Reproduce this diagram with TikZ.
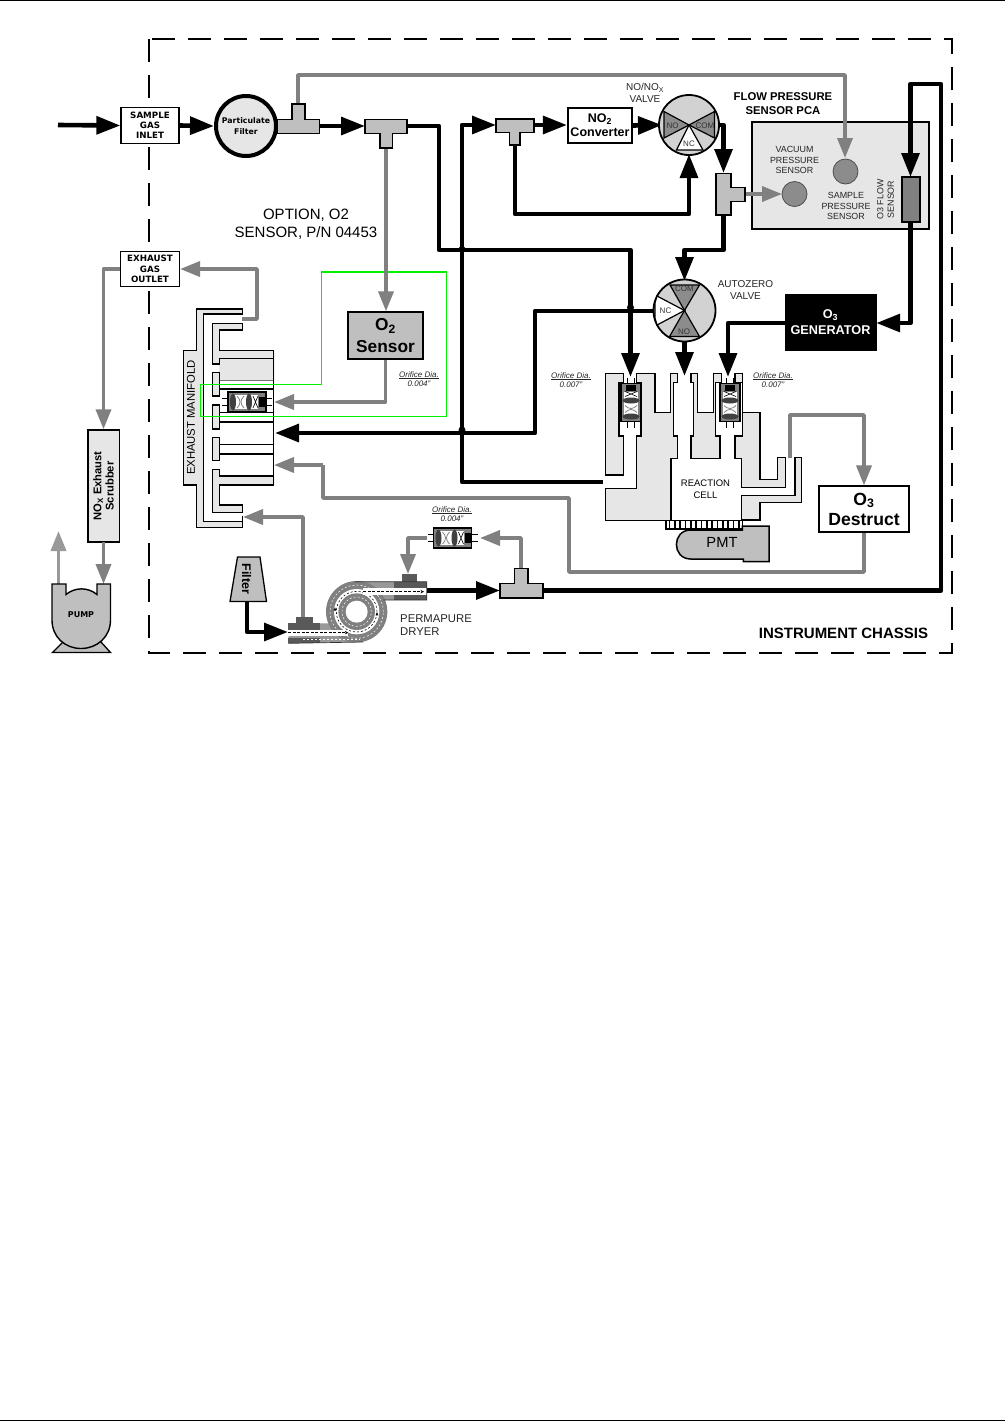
\documentclass[tikz,border=0pt]{standalone}
\usepackage{fontspec}
\setmainfont{Liberation Sans}
\newfontfamily\verd{DejaVu Sans}
\usetikzlibrary{arrows.meta}
\definecolor{lite}{HTML}{E6E6E6}
\definecolor{midg}{HTML}{BFBFBF}
\definecolor{pipeg}{HTML}{808080}
\definecolor{dark}{HTML}{8C8C8C}
\definecolor{optgreen}{HTML}{00F000}
\newcommand{\fsz}[1]{\fontsize{#1}{#1}\selectfont}
\tikzset{
 blk/.style={draw=black,line width=4.6pt,line join=round,-{Triangle[length=24pt,width=17.5pt]}},
 blkline/.style={draw=black,line width=4.6pt,line join=round},
 gry/.style={draw=pipeg,line width=3.6pt,line join=round,-{Triangle[length=20pt,width=15pt]}},
 gryline/.style={draw=pipeg,line width=3.6pt,line join=round},
 box/.style={draw=black,line width=1.2pt,fill=white,inner sep=0pt,align=center},
 tfit/.style={draw=black,fill=midg,line width=1.6pt},
 cellp/.style={draw=black,fill=lite,line width=1.5pt,line join=miter},
 manp/.style={draw=black,fill=lite,line width=1.4pt},
 lbl/.style={inner sep=0pt,align=center},
 dot/.style={circle,fill=black,inner sep=0pt,minimum size=7pt},
 wedgeg/.style={draw=black,fill=dark,line width=1.2pt},
 wedgew/.style={draw=black,fill=white,line width=1.2pt},
 valve/.style={circle,draw=black,line width=1.8pt,fill=midg!70!white,inner sep=0pt},
 orif/.pic={
  \draw[black,line width=.6pt] (-25,-3.5) -- (-19,-3.5) (-25,3.5) -- (-19,3.5) (19,-3.5) -- (25,-3.5) (19,3.5) -- (25,3.5);
  \fill[pipeg,draw=black,line width=1.2pt] (-19,-10) rectangle (19,10);
  \fill[white] (-15,-7) rectangle (11,7);
  \draw[pipeg,line width=.8pt] (-10,-6) .. controls (-6,-2) and (-6,2) .. (-10,6);
  \draw[pipeg,line width=.8pt] (-3,-6) .. controls (-7,-2) and (-7,2) .. (-3,6);
  \fill[black!75] (-14,0) ellipse (3pt and 8.5pt);
  \fill[black!75] (2,0) ellipse (3pt and 8.5pt);
  \draw[black,line width=.6pt] (6,-6) -- (11,6) (6,6) -- (11,-6);
  \fill[black] (12,-5) rectangle (18,5);
 }
}
\begin{document}
\begin{tikzpicture}[x=1pt,y=-1pt]
\useasboundingbox (0,0) rectangle (1005,1422);
\fill[white] (0,0) rectangle (1005,1422);
% page rules
\draw[line width=1pt] (0,.5) -- (1005,.5);
\draw[line width=1pt] (0,1420.5) -- (1005,1420.5);
% chassis
\draw[black,line width=1.4pt,dash pattern=on 23pt off 13pt] (149,39) rectangle (952,653);

% ---- nodes
\node[box,minimum width=58pt,minimum height=36pt,font=\verd\bfseries\fsz{8.7}] (inlet) at (150,125.5) {SAMPLE\\[1.5pt]GAS\\[1.5pt]INLET};
\node[circle,draw=black,line width=4pt,fill=lite,minimum size=60pt,inner sep=0pt,align=center,font=\verd\bfseries\fsz{7.8}] (pfilter) at (246,126) {Particulate\\[4pt]Filter};
\node[box,minimum width=64.5pt,minimum height=35pt,line width=1.6pt,font=\bfseries\fsz{12.5}] (no2) at (600,125.5) {NO\textsubscript{2}\\[1.5pt]Converter};
\node[box,minimum width=59pt,minimum height=35pt,font=\verd\bfseries\fsz{8.7}] (outlet) at (150,269) {EXHAUST\\[1.5pt]GAS\\[1.5pt]OUTLET};
\node[box,fill=midg,line width=1.4pt,minimum width=75pt,minimum height=47pt,font=\bfseries\fsz{17.3}] (o2) at (385.5,335.5) {O\textsubscript{2}\\[4pt]Sensor};
\node[draw=black,fill=black,text=white,inner sep=0pt,align=center,minimum width=91pt,minimum height=56pt,font=\bfseries\fsz{12.7}] (gen) at (830.5,322) {O\textsubscript{3}\\[3.5pt]GENERATOR};
\node[box,minimum width=90pt,minimum height=46pt,font=\bfseries\fsz{17.6}] (destruct) at (864,509) {O\textsubscript{3}\\[2.5pt]Destruct};
\node[draw=black,fill=lite,line width=1.4pt,minimum width=177pt,minimum height=107pt,inner sep=0pt] (pca) at (840.5,175.5) {};
\node[box,fill=lite,line width=1.4pt,minimum width=31.5pt,minimum height=112pt] (scrub) at (103.7,486) {};
\node[rotate=90,lbl,font=\bfseries\fsz{11.2}] at (103.5,486) {NO\textsubscript{X} Exhaust\\[1pt]Scrubber};

% ---- named connector ends
\coordinate (t1) at (298,126); \coordinate (t1top) at (298,104);
\coordinate (t2l) at (365,126); \coordinate (t2r) at (407,126); \coordinate (t2b) at (386,148);
\coordinate (t3l) at (496,125); \coordinate (t3r) at (534,125); \coordinate (t3b) at (515,145);
\coordinate (t4t) at (723.5,173); \coordinate (t4b) at (723.5,215); \coordinate (t4r) at (745,194);
\coordinate (t5l) at (500,590.5); \coordinate (t5r) at (543,590.5); \coordinate (t5t) at (521,568);
\coordinate (flowt) at (910.5,177); \coordinate (flowb) at (910.5,222);
\coordinate (cellin1) at (630.5,377); \coordinate (cellin2) at (684.5,376); \coordinate (cellin3) at (728,377);
\coordinate (cellout) at (790,458);

% ---- reaction cell
\begin{scope}[shift={(540,350)},x=.33333pt,y=-.33333pt]
 \draw[cellp] (197,70) -- (250,70) -- (250,97) -- (237,97) -- (237,258) -- (250,258) -- (250,375) -- (197,375) -- cycle;
 \draw[cellp] (290,70) -- (345,70) -- (345,188) -- (392,188) -- (392,70) -- (413,70) -- (413,97) -- (400,97) -- (400,258) -- (413,258) -- (413,325) -- (393,325) -- (393,512) -- (197,512) -- (197,415) -- (290,415) -- (290,258) -- (303,258) -- (303,97) -- (290,97) -- cycle;
 \draw[cellp] (453,70) -- (472,70) -- (472,188) -- (520,188) -- (520,70) -- (545,70) -- (545,97) -- (527,97) -- (527,258) -- (540,258) -- (540,325) -- (453,325) -- (453,258) -- (460,258) -- (460,97) -- (453,97) -- cycle;
 \draw[cellp] (585,70) -- (607,70) -- (607,188) -- (660,188) -- (660,388) -- (712,388) -- (712,323) -- (737,323) -- (737,412) -- (605,412) -- (605,325) -- (585,325) -- (585,258) -- (607,258) -- (607,97) -- (585,97) -- cycle;
 \draw[cellp] (605,510) -- (605,437) -- (765,437) -- (765,323) -- (785,323) -- (785,458) -- (660,458) -- (660,510) -- cycle;
 \draw[black,line width=1.5pt] (393,325) -- (393,512) -- (605,512);
 % window
 \fill[white,draw=black,line width=1.2pt] (378,512) rectangle (607,537);
 \foreach \k in {0,...,13} {\fill[black] (386+\k*16,512) rectangle (391+\k*16,537);}
 % PMT
 \draw[draw=black,fill=midg,line width=1.5pt] (607,540) -- (607,528) -- (687,528) -- (687,635) -- (610,635) -- (610,627) -- (452,627) .. controls (395,627) and (395,540) .. (452,540) -- cycle;
\end{scope}
\node[lbl,font=\fsz{9.5}] (rc) at (705.5,489.5) {REACTION\\[2.5pt]CELL};
\node[lbl,font=\fsz{14.7}] (pmt) at (722,542.5) {PMT};
\pic[rotate=90] at (631,402.5) {orif};
\pic[rotate=90] at (730,402.5) {orif};

% ---- exhaust manifold
\begin{scope}[shift={(170,290)},x=.33333pt,y=-.33333pt]
 \draw[manp] (217,57) -- (80,57) -- (80,182) -- (40,182) -- (40,585) -- (80,585) -- (80,713) -- (217,713) -- (217,695) -- (100,695) -- (100,72) -- (217,72) -- cycle;
 \fill[white] (100,72) rectangle (217,695);
 \draw[black,line width=1.4pt] (217,72) -- (100,72) -- (100,695) -- (217,695);
 \fill[lite] (148,205) rectangle (312,272);
 \fill[lite!60!white] (310,182) rectangle (316,272);
 \fill[lite!60!white] (310,558) rectangle (316,585);
 \draw[manp] (217,100) -- (127,100) -- (127,222) -- (148,222) -- (148,205) -- (310,205) -- (310,182) -- (148,182) -- (148,120) -- (217,120) -- cycle;
 \draw[black!55,line width=.9pt] (148,272) -- (310,272);
 \draw[black,line width=1.8pt] (148,297) -- (310,297);
 \draw[manp] (127,248) -- (148,248) -- (148,318) -- (127,318) -- cycle;
 \draw[black,line width=1.8pt] (148,395) -- (310,395);
 \draw[black,line width=1pt] (148,367) -- (310,367);
 \draw[manp] (127,345) -- (148,345) -- (148,417) -- (127,417) -- cycle;
 \draw[black,line width=1.6pt] (148,463) -- (310,463) (148,492) -- (310,492);
 \draw[manp] (127,443) -- (148,443) -- (148,512) -- (127,512) -- cycle;
 \draw[manp] (127,538) -- (148,538) -- (148,558) -- (310,558) -- (310,585) -- (148,585) -- (148,645) -- (217,645) -- (217,667) -- (127,667) -- cycle;
 \draw[black,line width=1.4pt] (310,182) -- (310,585);
 \draw[black,line width=1.4pt] (217,677) -- (217,713);
\end{scope}
\node[rotate=90,lbl,font=\fsz{11.3}] (manlabel) at (191,417.5) {EXHAUST MANIFOLD};
\pic at (247,402) {orif};

% ---- green option outline
\draw[optgreen,line width=1.2pt] (321.5,272) -- (446.5,272) -- (446.5,416.5) -- (200.5,416.5) -- (200.5,384.5) -- (321.5,384.5) -- cycle;

% ---- pipes (grey)
\coordinate (manout) at (242,319);
\coordinate (manin1) at (274,402); \coordinate (manin2) at (275,433); \coordinate (manin3) at (274,465); \coordinate (manin4) at (243,517);
\draw[gry] (manout) -- (257,319) -- (257,269) -- (outlet.east);
\draw[gry] (outlet.west) -- (103.5,269) -- (scrub.north-|103.5,0);
\draw[gry] (t1top) -- (298,75) -- (845,75) -- (845,158);
\draw[gry] (t2b) -- (o2.north-|t2b);
\draw[gry] (o2.south) -- (385.5,402) -- (manin1);
\draw[gry] (t4r) -- (782,194);
\draw[gry] (cellout) -- (790,415) -- (864,415) -- (destruct.north);
\draw[gryline] (destruct.south) -- (864,572) -- (569,572) -- (569,498) -- (323,498) -- (323,465);
\draw[gry] (323,465) -- (manin3);
\draw[gry] (303,617) -- (303,517) -- (manin4);
\draw[gry] (521,568) -- (521,538) -- (480,538);
\draw[gry] (427,538) -- (408,538) -- (408,574);
\draw[draw=pipeg,line width=3.6pt,-{Triangle[length=20pt,width=15pt]}] (103.5,542) -- (103.5,584);
\draw[draw=black!40,line width=3.6pt,-{Triangle[length=20pt,width=15pt]}] (58.5,584) -- (58.5,531);

% ---- pipes (black)
\draw[blk] (58,125) -- (inlet.west);
\draw[blk] (inlet.east) -- (pfilter.west);
\draw[blk] (t1) ++(20,0) -- (t2l);
\draw[blk] (t2r) -- (439,126) -- (439,250) -- (630.5,250) -- (cellin1);
\draw[blkline] (603,482) -- (462,482) -- (462,125) -- (470,125);
\draw[blk] (462,125) -- (t3l);
\draw[blk] (t3r) -- (no2.west|-t3r);
\draw[blk] (no2.east) -- (662,125);
\draw[blk] (t3b) -- (515,214) -- (689,214) -- (689,154);
\draw[blk] (716,125) -- (723.5,125) -- (t4t);
\draw[blk] (t4b) -- (723.5,250) -- (684.5,250) -- (684.5,281);
\draw[blk] (t5r) -- (941,590.5) -- (941,84) -- (910.5,84) -- (flowt);
\draw[blk] (flowb) -- (910.5,323) -- (gen.east|-0,323);
\draw[blk] (gen.west|-0,323) -- (728,323) -- (cellin3);
\draw[blk] (684.5,340) -- (cellin2);
\draw[blk] (654,311) -- (535,311) -- (535,433) -- (manin2);
\draw[blk] (247,602) -- (247,632) -- (288,632);
\draw[blk] (427,590.5) -- (t5l);
\node[dot] (j1) at (462,249.5) {};
\node[dot] (j2) at (630.5,307.5) {};
\node[dot] (j3) at (462,430) {};

% ---- tee fittings
\draw[tfit] (277.5,119.5) -- (292,119.5) -- (292,104) -- (305,104) -- (305,119.5) -- (319.5,119.5) -- (319.5,133.5) -- (277.5,133.5) -- cycle;
\draw[tfit] (365,119.5) -- (407,119.5) -- (407,133.5) -- (392.5,133.5) -- (392.5,148) -- (380,148) -- (380,133.5) -- (365,133.5) -- cycle;
\draw[tfit] (496,119) -- (534,119) -- (534,132.5) -- (520,132.5) -- (520,145) -- (509.5,145) -- (509.5,132.5) -- (496,132.5) -- cycle;
\draw[tfit] (716,173.5) -- (731,173.5) -- (731,187.5) -- (745,187.5) -- (745,201.5) -- (731,201.5) -- (731,215) -- (716,215) -- cycle;
\draw[tfit] (500,583.5) -- (514.5,583.5) -- (514.5,568.5) -- (528,568.5) -- (528,583.5) -- (543,583.5) -- (543,598) -- (500,598) -- cycle;

% ---- NO/NOx valve
\node[valve,minimum size=60pt] (nov) at (689,125) {};
\draw[wedgeg] (689,125) -- (664,111.5) -- (664,138) -- cycle;
\draw[wedgeg] (689,125) -- (714.5,111.5) -- (714.5,138) -- cycle;
\draw[wedgew] (689,125) -- (676.5,150) -- (703,150) -- cycle;
\node[lbl,font=\fsz{8},text=black!80] at (672.5,125.5) {NO};
\node[lbl,font=\fsz{8},text=black!80] at (705,125.5) {COM};
\node[lbl,font=\fsz{8},text=black!80] at (689,144) {NC};
% ---- Autozero valve
\node[valve,minimum size=62pt] (azv) at (684.5,310.5) {};
\draw[wedgeg] (684.5,310.5) -- (670,285) -- (699.5,285) -- cycle;
\draw[wedgeg] (684.5,310.5) -- (669.5,336.5) -- (699.5,336.5) -- cycle;
\draw[wedgew] (684.5,310.5) -- (657,296) -- (655,303) -- (655,318) -- (657,325) -- cycle;
\node[lbl,font=\fsz{8},text=black!80] at (684.5,289) {COM};
\node[lbl,font=\fsz{8},text=black!80] at (684,331.5) {NO};
\node[lbl,font=\fsz{8},text=black!80] at (665.5,310.5) {NC};

% ---- PCA contents
\node[circle,draw=black!70,fill=dark,line width=.8pt,minimum size=25pt,inner sep=0pt] (vac) at (794.5,194) {};
\node[circle,draw=black!70,fill=dark,line width=.8pt,minimum size=25pt,inner sep=0pt] (samp) at (845.5,171.5) {};
\node[draw=black,fill=pipeg,line width=1.4pt,minimum width=18pt,minimum height=45pt,inner sep=0pt] (flow) at (911,199.5) {};

% ---- texts
\node[lbl,font=\fsz{15}] (opt) at (306,224.5) {OPTION, O2\\[3pt]SENSOR, P/N 04453};
\node[lbl,font=\fsz{10},text=black!85] (novl) at (645,93) {NO/NO\textsubscript{X}\\[2pt]VALVE};
\node[lbl,font=\bfseries\fsz{11.3}] (pcal) at (783,103.5) {FLOW PRESSURE\\[2pt]SENSOR PCA};
\node[lbl,font=\fsz{8.9},text=black!85] (vacl) at (794.5,160) {VACUUM\\[1.7pt]PRESSURE\\[1.7pt]SENSOR};
\node[lbl,font=\fsz{8.9},text=black!85] (sampl) at (846,206) {SAMPLE\\[1.7pt]PRESSURE\\[1.7pt]SENSOR};
\node[lbl,rotate=90,font=\fsz{8.9},text=black!85] (flowl) at (885.5,199.5) {O3 FLOW\\[1.7pt]SENSOR};
\node[lbl,font=\fsz{10},text=black!85] (azl) at (745.5,290) {AUTOZERO\\[2pt]VALVE};
\node[lbl,font=\fsz{11.3},align=left,text=black!85] (perm) at (436,625.5) {PERMAPURE\\[1.5pt]DRYER};
\node[lbl,font=\bfseries\fsz{15}] (chas) at (843.5,633) {INSTRUMENT CHASSIS};
\node[lbl,font=\itshape\fsz{8},text=black!85] (d1) at (419,379) {\underline{Orifice Dia.}\\[1.5pt]0.004"};
\node[lbl,font=\itshape\fsz{8},text=black!85] (d2) at (571,380) {\underline{Orifice Dia.}\\[1.5pt]0.007"};
\node[lbl,font=\itshape\fsz{8},text=black!85] (d3) at (773,380) {\underline{Orifice Dia.}\\[1.5pt]0.007"};
\node[lbl,font=\itshape\fsz{8},text=black!85] (d4) at (452,514) {\underline{Orifice Dia.}\\[1.5pt]0.004"};

% ---- Filter
\draw[draw=black,fill=midg,line width=1.3pt] (237.5,557) -- (260,557) -- (266.5,601.5) -- (230,601.5) -- cycle;
\node[lbl,rotate=-90,font=\bfseries\fsz{12.5}] (filt) at (246.5,579) {Filter};

% ---- Pump
\draw[draw=black,fill=midg,line width=1.3pt] (52.5,652.5) -- (63,642) -- (101,642) -- (110.5,652.5) -- cycle;
\draw[draw=black,fill=midg,line width=1.4pt] (52,584) -- (66,584) -- (66,594.5) .. controls (75,587) and (88,587) .. (97,594.5) -- (97,584) -- (110.5,584) -- (110.5,620) .. controls (110.5,637) and (97,648.5) .. (81,648.5) .. controls (65,648.5) and (52,637) .. (52,620) -- cycle;
\node[lbl,font=\verd\bfseries\fsz{8}] (pump) at (81,615) {PUMP};

% ---- Orifices outside
\pic at (452.5,538) {orif};

% ---- Permapure dryer
\begin{scope}[shift={(220,490)},x=.33333pt,y=-.33333pt]
 \fill[black!40] (300,400) -- (370,400) -- (430,455) -- (205,460) -- (205,440) -- cycle;
 \fill[black!40] (405,275) -- (620,275) -- (620,330) -- (490,330) -- cycle;
 \fill[black!50] (410,365) circle (92pt*.33333);
 \fill[white] (410,365) circle (68pt*.33333);
 \fill[black!50] (410,365) circle (55pt*.33333);
 \fill[white] (410,365) circle (33pt*.33333);
 \draw[white,line width=.5pt,dash pattern=on 2pt off 2pt] (410,365) circle (80pt*.33333);
 \draw[white,line width=.5pt,dash pattern=on 2pt off 2pt] (410,365) circle (44pt*.33333);
 \draw[black,line width=.6pt,dash pattern=on 2pt off 2pt] (410,365) circle (61pt*.33333);
 \fill[white] (205,420) rectangle (385,437);
 \fill[white] (430,295) rectangle (620,315);
 \fill[black!65] (205,398) rectangle (300,420);
 \fill[black!65] (205,444) rectangle (300,460);
 \fill[black!65] (228,380) rectangle (278,398);
 \fill[black!65] (522,275) rectangle (620,295);
 \fill[black!65] (522,315) rectangle (620,330);
 \fill[black!65] (545,252) rectangle (592,275);
 \draw[black,line width=.6pt,dash pattern=on 3pt off 1.5pt,-{Stealth[length=3.5pt,width=3.5pt]}] (205,428) -- (385,428);
 \draw[black,line width=.6pt,dash pattern=on 3pt off 1.5pt,-{Stealth[length=3.5pt,width=3.5pt]}] (430,305) -- (612,305);
 \draw[white,line width=.5pt,dash pattern=on 2pt off 2pt] (250,449) -- (420,449);
 \draw[black!80,line width=.7pt] (205,460) -- (430,456) (405,275) -- (620,275) (620,275) -- (620,330) -- (490,330);
 \fill[black] (345,352) -- (341,362) -- (349,362) -- cycle;
 \fill[black] (471,366) -- (467,376) -- (475,376) -- cycle;
\end{scope}
\end{tikzpicture}
\end{document}
